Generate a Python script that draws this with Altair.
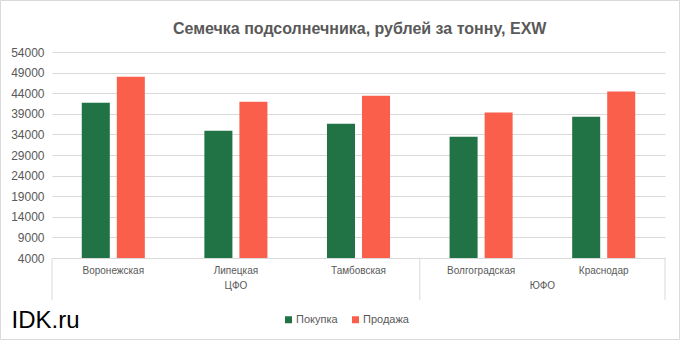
import altair as alt
import pandas as pd

regions = ["Воронежская", "Липецкая", "Тамбовская", "Волгоградская", "Краснодар"]
districts = ["ЦФО", "ЦФО", "ЦФО", "ЮФО", "ЮФО"]
buy = [41700, 34900, 36600, 33400, 38300]
sell = [48000, 41900, 43400, 39300, 44400]
series = ["Покупка", "Продажа"]
colors = ["#217346", "#FA5F4B"]
y_ticks = [4000, 9000, 14000, 19000, 24000, 29000, 34000, 39000, 44000, 49000, 54000]
title_text = "Семечка подсолнечника, рублей за тонну, EXW"
brand = "IDK.ru"

W, H = 613, 206
FONT = "Liberation Sans"
GREY = "#595959"
LINE = "#d9d9d9"

rows = []
for r, d, b, s in zip(regions, districts, buy, sell):
    rows.append({"region": r, "district": d, "series": series[0], "value": b})
    rows.append({"region": r, "district": d, "series": series[1], "value": s})
df = pd.DataFrame(rows)

# district groups: start/end in category units
groups = []
bounds = [0]
i = 0
while i < len(districts):
    j = i
    while j < len(districts) and districts[j] == districts[i]:
        j += 1
    groups.append({"district": districts[i], "center": (i + j) / 2})
    bounds.append(j)
    i = j
gdf = pd.DataFrame(groups)
bdf = pd.DataFrame({"pos": bounds})

bars = alt.Chart(df).mark_bar(clip=True).encode(
    x=alt.X("region:N", sort=regions, title=None,
            scale=alt.Scale(paddingInner=0, paddingOuter=0),
            axis=alt.Axis(labelAngle=0, ticks=False, domain=False, labelFont=FONT,
                          labelFontSize=10, labelColor=GREY, labelPadding=7)),
    xOffset=alt.XOffset("series:N", sort=series,
                        scale=alt.Scale(paddingInner=0.2, paddingOuter=0.85)),
    y=alt.Y("value:Q", title=None,
            scale=alt.Scale(domain=[y_ticks[0], y_ticks[-1]], nice=False, zero=False),
            axis=alt.Axis(values=y_ticks, ticks=False, domain=False, gridColor=LINE,
                          gridWidth=1, labelFont=FONT, labelFontSize=12,
                          labelColor=GREY, labelPadding=8, format="d")),
    color=alt.Color("series:N", sort=series, title=None,
                    scale=alt.Scale(domain=series, range=colors),
                    legend=alt.Legend(orient="none", legendX=231, legendY=262,
                                      direction="horizontal", symbolType="square",
                                      symbolSize=49, symbolStrokeWidth=0,
                                      labelFont=FONT, labelFontSize=11,
                                      labelColor=GREY, labelOffset=2,
                                      columnPadding=12)),
)

xq = alt.Scale(domain=[0, len(regions)])

dist_text = alt.Chart(gdf).mark_text(font=FONT, fontSize=10, color=GREY,
                                     baseline="alphabetic").encode(
    x=alt.X("center:Q", scale=xq, axis=None),
    y=alt.value(237),
    text="district:N",
)

dist_rules = alt.Chart(bdf).mark_rule(color=LINE, strokeWidth=1).encode(
    x=alt.X("pos:Q", scale=xq, axis=None),
    y=alt.value(H),
    y2=alt.value(H + 42),
)

ann = pd.DataFrame({"t": [title_text]})
title = alt.Chart(ann).mark_text(font=FONT, fontSize=16, fontWeight="bold",
                                 color=GREY, baseline="alphabetic").encode(
    x=alt.value(307.7), y=alt.value(-18.5), text="t:N")

brand_df = pd.DataFrame({"t": [brand]})
brand_t = alt.Chart(brand_df).mark_text(font=FONT, fontSize=24, color="#000000",
                                        align="left", baseline="alphabetic").encode(
    x=alt.value(-40.5), y=alt.value(276), text="t:N")

border = alt.Chart(ann).mark_rect(fill=None, stroke=LINE, strokeWidth=1).encode(
    x=alt.value(-51.5), y=alt.value(-51.5), x2=alt.value(627.5), y2=alt.value(287.5))

chart = alt.layer(bars, dist_rules, dist_text, title, brand_t, border).resolve_scale(
    x="independent"
).properties(
    width=W, height=H,
    autosize=alt.AutoSizeParams(type="none"),
    padding={"left": 52, "top": 52, "right": 16, "bottom": 83},
    background="white",
).configure_view(strokeWidth=0)

chart.save("out.html", embed_options={"renderer": "svg", "actions": False})
